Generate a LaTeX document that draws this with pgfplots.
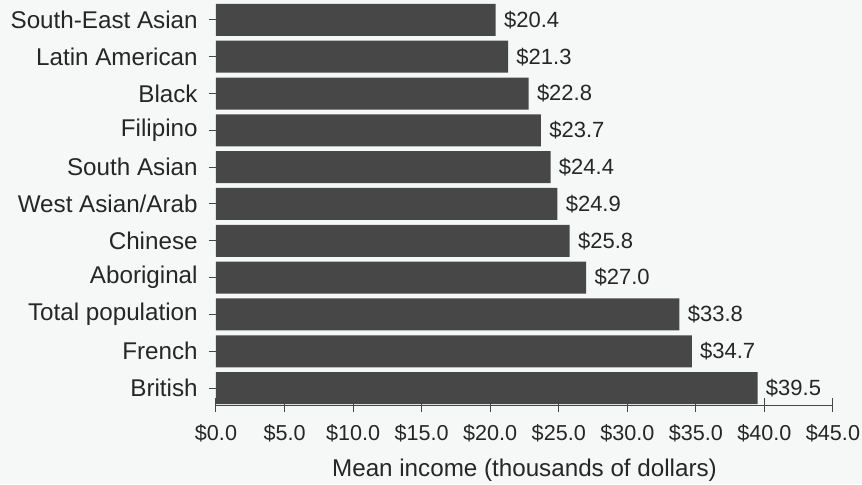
\documentclass[border=0pt]{standalone}
\usepackage{fontspec}
\setmainfont{Liberation Sans}
\usepackage{pgfplots}
\pgfplotsset{compat=1.18}
\definecolor{bg}{HTML}{F6F8F8}
\definecolor{barc}{HTML}{474747}
\definecolor{txt}{HTML}{262626}
\pagecolor{bg}
\begin{document}
\begin{tikzpicture}
\useasboundingbox (-108pt,-39.5pt) rectangle (323pt,202.5pt);
\begin{axis}[
  at={(0,0)}, anchor=south west,
  scale only axis, width=308.5pt, height=202.5pt,
  xbar, bar width=16pt,
  xmin=0, xmax=45, ymin=-0.46, ymax=10.54,
  axis x line*=bottom, axis y line*=left,
  y axis line style={draw=none},
  x axis line style={txt!85, line width=0.5pt},
  /pgf/number format/assume math mode=true,
  tick align=center, major tick length=7pt,
  tick style={txt!85, line width=0.5pt},
  xtick={0,5,...,45},
  xticklabel={\$\pgfmathprintnumber[fixed,fixed zerofill,precision=1]{\tick}},
  xticklabel style={font=\fontsize{10.8}{12}\selectfont, text=txt, inner sep=0pt, anchor=north, yshift=-6pt},
  ytick={0,...,10},
  yticklabels={British, French, Total population, Aboriginal, Chinese, West Asian/Arab, South Asian, Filipino, Black, Latin American, South-East Asian},
  yticklabel style={font=\fontsize{12.1}{14}\selectfont, text=txt, inner sep=0pt, anchor=east, xshift=-5.5pt},
  xlabel={Mean income (thousands of dollars)},
  x label style={font=\fontsize{12.1}{14}\selectfont, text=txt, at={(axis description cs:0.5,0)}, anchor=base, yshift=-35.5pt},
  nodes near coords={\$\pgfmathprintnumber[fixed,fixed zerofill,precision=1]{\pgfplotspointmeta}},
  point meta=x,
  every node near coord/.append style={font=\fontsize{11}{12}\selectfont, text=txt, inner sep=0pt, anchor=west, xshift=4pt},
]
\addplot[draw=none, fill=barc] coordinates {
  (39.5,0) (34.7,1) (33.8,2) (27.0,3) (25.8,4) (24.9,5)
  (24.4,6) (23.7,7) (22.8,8) (21.3,9) (20.4,10)
};
\end{axis}
\end{tikzpicture}
\end{document}
